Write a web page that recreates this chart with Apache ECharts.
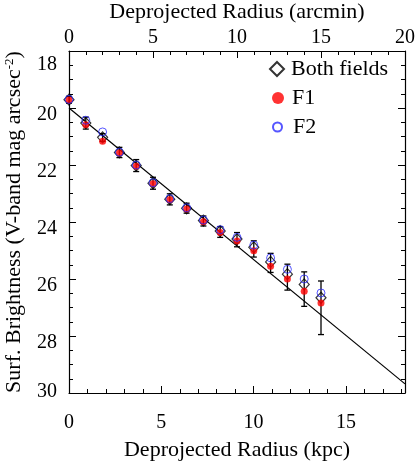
<!DOCTYPE html>
<html>
<head>
<meta charset="utf-8">
<script src="https://cdn.jsdelivr.net/npm/echarts@6/dist/echarts.min.js"></script>
<style>
  html, body { margin: 0; padding: 0; background: #fff; }
  #chart { width: 415px; height: 463px; }
</style>
</head>
<body>
<div id="chart"></div>
<script>
// radius of each annulus in arcmin (top axis)
const radiusArcmin = [0, 1, 2, 3, 4, 5, 6, 7, 8, 9, 10, 11, 12, 13, 14, 15];
// surface brightness, V mag / arcsec^2
const bothMag = [19.71, 20.53, 21.03, 21.56, 22.02, 22.64, 23.20, 23.52, 23.95, 24.32, 24.60, 24.89, 25.40, 25.83, 26.19, 26.66];
const bothErrTop = [19.59, 20.32, 20.90, 21.38, 21.81, 22.43, 23.01, 23.34, 23.79, 24.16, 24.37, 24.66, 25.10, 25.48, 25.75, 26.07];
const bothErrBottom = [19.83, 20.74, 21.17, 21.74, 22.23, 22.85, 23.40, 23.69, 24.14, 24.54, 24.87, 25.23, 25.77, 26.39, 26.96, 27.95];
const f1Mag = [19.72, 20.59, 21.17, 21.58, 22.04, 22.66, 23.22, 23.54, 23.99, 24.37, 24.67, 25.01, 25.55, 26.00, 26.43, 26.84];
const f2Mag = [19.70, 20.43, 20.84, 21.55, 22.00, 22.62, 23.18, 23.50, 23.93, 24.27, 24.54, 24.81, 25.26, 25.66, 26.00, 26.49];
// exponential fit line, kpc vs mag
const fitRadiusKpc = [0, 18.2];
const fitMag = [20.0, 29.68];

const serif = "Liberation Serif";
const black = '#000';
const gridBox = { left: 69, right: 10, top: 51, bottom: 70, outerBoundsMode: 'none', containLabel: false };
const titleSize = 22;
const labelSize = 20;

function labelRich(pad) {
  return { fontFamily: serif, fontSize: labelSize, color: black, padding: pad };
}

const myChart = echarts.init(document.getElementById('chart'));

myChart.setOption({
  animation: false,
  textStyle: { fontFamily: serif, color: black },
  grid: [Object.assign({}, gridBox), Object.assign({}, gridBox)],
  legend: [
    {
      data: ['Both fields'], left: 264, top: 53, padding: 5, itemWidth: 14, itemHeight: 14,
      selectedMode: false, textStyle: { fontFamily: serif, fontSize: titleSize, color: black, padding: [0, 0, 0, 2] }
    },
    {
      data: ['F1'], left: 267, top: 82, padding: 5, itemWidth: 12, itemHeight: 12,
      selectedMode: false, textStyle: { fontFamily: serif, fontSize: titleSize, color: black, padding: [0, 0, 0, 3] }
    },
    {
      data: ['F2'], left: 267, top: 111, padding: 5, itemWidth: 9, itemHeight: 9,
      selectedMode: false, textStyle: { fontFamily: serif, fontSize: titleSize, color: black, padding: [0, 0, 0, 6] }
    }
  ],
  xAxis: [
    {
      gridIndex: 0, type: 'value', position: 'bottom',
      min: 0, max: 18.2, interval: 1,
      name: 'Deprojected Radius (kpc)', nameLocation: 'middle', nameGap: 46,
      nameTextStyle: { fontFamily: serif, fontSize: titleSize, color: black },
      axisLine: { onZero: false, lineStyle: { color: black, width: 1.2 } },
      axisTick: { inside: true, length: 4, lineStyle: { color: black } },
      axisLabel: {
        fontFamily: serif, fontSize: labelSize, color: black, margin: 20,
        formatter: function (v) { return Math.abs(v % 5) < 1e-9 ? String(v) : ''; }
      },
      splitLine: { show: false }
    },
    {
      gridIndex: 0, type: 'value', position: 'top',
      min: 0, max: 20, interval: 5,
      name: 'Deprojected Radius (arcmin)', nameLocation: 'middle', nameGap: 26,
      nameTextStyle: { fontFamily: serif, fontSize: titleSize, color: black },
      axisLine: { onZero: false, lineStyle: { color: black, width: 1.2 } },
      axisTick: { inside: true, length: 7, lineStyle: { color: black } },
      minorTick: { show: true, splitNumber: 5, length: 4, lineStyle: { color: black } },
      axisLabel: { fontFamily: serif, fontSize: labelSize, color: black, margin: 3 },
      splitLine: { show: false }
    },
    {
      // long ticks at every 5 kpc on the bottom edge
      gridIndex: 1, type: 'value', position: 'bottom',
      min: 0, max: 18.2, interval: 5,
      axisLine: { show: false },
      axisTick: { inside: true, length: 7, lineStyle: { color: black } },
      axisLabel: { show: false },
      splitLine: { show: false }
    }
  ],
  yAxis: [
    {
      gridIndex: 0, type: 'value', position: 'left', inverse: true,
      min: 18, max: 30, interval: 2,
      name: 'Surf. Brightness (V-band mag arcsec{sup|-2})',
      nameLocation: 'middle', nameGap: 43,
      nameTextStyle: {
        fontFamily: serif, fontSize: titleSize, color: black,
        rich: { sup: { fontFamily: serif, fontSize: 13, color: black, verticalAlign: 'top', padding: [0, 0, 10, 0] } }
      },
      axisLine: { onZero: false, lineStyle: { color: black, width: 1.2 } },
      axisTick: { inside: true, length: 7, lineStyle: { color: black } },
      minorTick: { show: true, splitNumber: 4, length: 4, lineStyle: { color: black } },
      axisLabel: {
        margin: 12, padding: [13, 0, 0, 0],
        formatter: function (v) {
          if (v === 18) return '{first|' + v + '}';
          if (v === 30) return '{last|' + v + '}';
          return '{mid|' + v + '}';
        },
        rich: {
          first: labelRich([14, 0, 0, 0]),
          mid: labelRich([0, 0, 0, 0]),
          last: labelRich([0, 0, 16, 0])
        }
      },
      splitLine: { show: false }
    },
    {
      gridIndex: 0, type: 'value', position: 'right', inverse: true,
      min: 18, max: 30, interval: 2,
      axisLine: { onZero: false, lineStyle: { color: black, width: 1.2 } },
      axisTick: { inside: true, length: 7, lineStyle: { color: black } },
      minorTick: { show: true, splitNumber: 4, length: 4, lineStyle: { color: black } },
      axisLabel: { show: false },
      splitLine: { show: false }
    },
    { gridIndex: 1, type: 'value', show: false, inverse: true, min: 18, max: 30 }
  ],
  series: [
    {
      name: 'fit', type: 'line', xAxisIndex: 0, yAxisIndex: 0,
      data: fitRadiusKpc.map((r, i) => [r, fitMag[i]]),
      symbol: 'none', silent: true,
      lineStyle: { color: black, width: 1.2 }, z: 1
    },
    {
      name: 'errors', type: 'custom', xAxisIndex: 1, yAxisIndex: 0,
      data: radiusArcmin.map((r, i) => [r, bothErrTop[i], bothErrBottom[i]]),
      encode: { x: 0, y: [1, 2] },
      silent: true, z: 2,
      renderItem: function (params, api) {
        const p1 = api.coord([api.value(0), api.value(1)]);
        const p2 = api.coord([api.value(0), api.value(2)]);
        const cap = 3;
        const style = { stroke: black, lineWidth: 1.3 };
        return {
          type: 'group',
          children: [
            { type: 'line', shape: { x1: p1[0], y1: p1[1], x2: p2[0], y2: p2[1] }, style: style },
            { type: 'line', shape: { x1: p1[0] - cap, y1: p1[1], x2: p1[0] + cap, y2: p1[1] }, style: style },
            { type: 'line', shape: { x1: p2[0] - cap, y1: p2[1], x2: p2[0] + cap, y2: p2[1] }, style: style }
          ]
        };
      }
    },
    {
      name: 'Both fields', type: 'scatter', xAxisIndex: 1, yAxisIndex: 0,
      data: radiusArcmin.map((r, i) => [r, bothMag[i]]),
      symbol: 'diamond', symbolSize: [10, 11], z: 3,
      itemStyle: { color: 'rgba(255,255,255,0)', borderColor: black, borderWidth: 1.2 }
    },
    {
      name: 'F1', type: 'scatter', xAxisIndex: 1, yAxisIndex: 0,
      data: radiusArcmin.map((r, i) => [r, f1Mag[i]]),
      symbol: 'circle', symbolSize: 7, z: 4,
      itemStyle: { color: '#ff0000' }
    },
    {
      name: 'F2', type: 'scatter', xAxisIndex: 1, yAxisIndex: 0,
      data: radiusArcmin.map((r, i) => [r, f2Mag[i]]),
      symbol: 'circle', symbolSize: 8, z: 5,
      itemStyle: { color: 'rgba(255,255,255,0)', borderColor: '#2b2bff', borderWidth: 1 }
    }
  ]
});

window.addEventListener('resize', myChart.resize);
</script>
</body>
</html>
